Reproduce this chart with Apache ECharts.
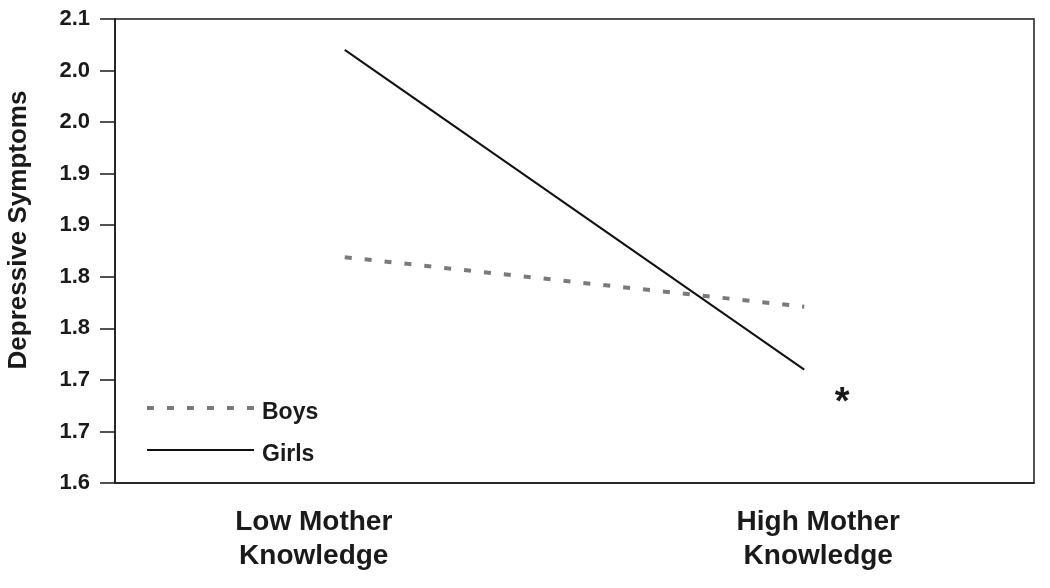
<!DOCTYPE html>
<html>
<head>
<meta charset="utf-8">
<script src="https://cdn.jsdelivr.net/npm/echarts@6/dist/echarts.min.js"></script>
<style>
  html, body { margin: 0; padding: 0; background: #fff; }
  #chart { width: 1050px; height: 588px; }
</style>
</head>
<body>
<div id="chart"></div>
<script>
// data
const categories = ['Low Mother\nKnowledge', 'High Mother\nKnowledge'];
const boys = [1.819, 1.771];
const girls = [2.020, 1.710];
const yTickLabels = ['1.6', '1.7', '1.7', '1.8', '1.8', '1.9', '1.9', '2.0', '2.0', '2.1'];
const yMin = 1.6;
const yMax = 2.05;
const yStep = 0.05;
const noteMark = '*';
const noteValue = 1.682;

const font = "'Liberation Sans', Arial, Helvetica, sans-serif";
const ink = '#1a1a1a';
const boysStyle = { color: '#7a7a7a', width: 4, type: [7, 13] };
const girlsStyle = { color: '#111', width: 2, type: 'solid' };

const chart = echarts.init(document.getElementById('chart'));

chart.setOption({
  animation: false,
  backgroundColor: '#fff',
  grid: {
    left: 115,
    right: 16,
    top: 19,
    bottom: 105,
    containLabel: false,
    outerBoundsMode: 'none',
    show: true,
    borderColor: ink,
    borderWidth: 1.5
  },
  legend: {
    orient: 'vertical',
    left: 145,
    top: 392,
    padding: 0,
    itemWidth: 107,
    itemHeight: 14,
    itemGap: 10,
    itemStyle: { opacity: 0 },
    formatter: name => '{t|' + name + '}',
    textStyle: {
      fontFamily: font,
      fontWeight: 'bold',
      fontSize: 23,
      color: ink,
      rich: {
        t: { fontFamily: font, fontWeight: 'bold', fontSize: 23, lineHeight: 24, color: ink, padding: [9, 0, 0, 3] }
      }
    },
    data: [
      { name: 'Boys', lineStyle: boysStyle },
      { name: 'Girls', lineStyle: girlsStyle }
    ]
  },
  xAxis: {
    type: 'category',
    data: categories,
    boundaryGap: true,
    axisLine: { lineStyle: { color: ink, width: 1.5 } },
    axisTick: { length: 14, lineStyle: { color: ink, width: 1.5 } },
    axisLabel: {
      margin: 22,
      fontFamily: font,
      fontWeight: 'bold',
      fontSize: 28,
      lineHeight: 34,
      color: ink,
      formatter: (val, idx) => val.split('\n').map(s => '{c' + idx + '|' + s + '}').join('\n'),
      rich: {
        c0: { fontFamily: font, fontWeight: 'bold', fontSize: 28, lineHeight: 34, color: ink, padding: [0, 62, 0, 0] },
        c1: { fontFamily: font, fontWeight: 'bold', fontSize: 28, lineHeight: 34, color: ink, padding: [0, 0, 0, 28] }
      }
    },
    splitLine: { show: false }
  },
  yAxis: {
    type: 'value',
    min: yMin,
    max: yMax,
    interval: yStep,
    name: 'Depressive Symptoms',
    nameLocation: 'middle',
    nameRotate: 90,
    nameGap: 83,
    nameTextStyle: {
      fontFamily: font,
      fontWeight: 'bold',
      fontSize: 26,
      color: ink,
      padding: [0, 0, 0, 42]
    },
    axisLine: { show: true, lineStyle: { color: ink, width: 1.5 } },
    axisTick: { show: true, length: 15, lineStyle: { color: ink, width: 1.5 } },
    axisLabel: {
      margin: 25,
      fontFamily: font,
      fontWeight: 'bold',
      fontSize: 22,
      color: ink,
      formatter: v => yTickLabels[Math.round((v - yMin) / yStep)]
    },
    splitLine: { show: false }
  },
  series: [
    {
      name: 'Boys',
      type: 'line',
      data: boys,
      symbol: 'none',
      lineStyle: boysStyle,
      itemStyle: { color: '#7a7a7a' }
    },
    {
      name: 'Girls',
      type: 'line',
      data: girls,
      symbol: 'none',
      lineStyle: girlsStyle,
      itemStyle: { color: '#111' },
      markPoint: {
        symbol: 'circle',
        symbolSize: 1,
        itemStyle: { color: 'rgba(0,0,0,0)' },
        label: {
          show: true,
          position: 'inside',
          offset: [38, 5],
          formatter: noteMark,
          fontFamily: font,
          fontWeight: 'bold',
          fontSize: 38,
          color: ink
        },
        data: [{ coord: [1, noteValue] }]
      }
    }
  ]
});
</script>
</body>
</html>
